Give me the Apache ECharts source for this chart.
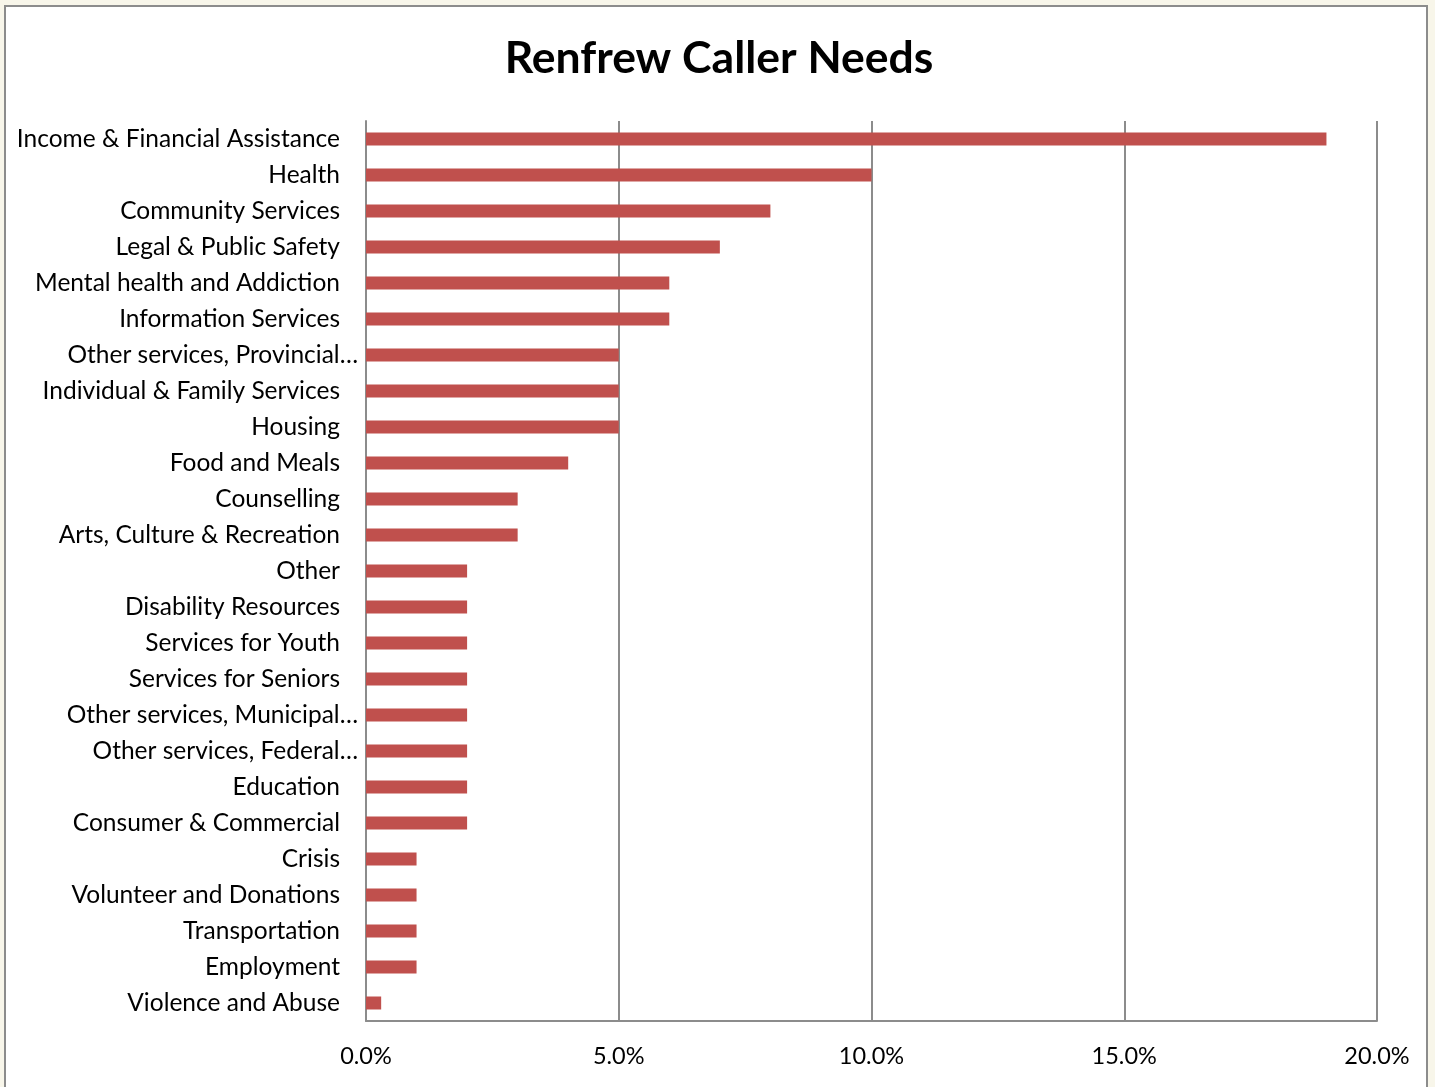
<!DOCTYPE html>
<html>
<head>
<meta charset="utf-8">
<script src="https://cdn.jsdelivr.net/npm/echarts@6/dist/echarts.min.js"></script>
<style>
  html, body { margin: 0; padding: 0; background: #f8f6ea; }
  #chart { width: 1435px; height: 1087px; }
</style>
</head>
<body>
<div id="chart"></div>
<script>
// Share of calls by need category (percent)
const categories = [
  'Income & Financial Assistance',
  'Health',
  'Community Services',
  'Legal & Public Safety',
  'Mental health and Addiction',
  'Information Services',
  'Other services, Provincial…',
  'Individual & Family Services',
  'Housing',
  'Food and Meals',
  'Counselling',
  'Arts, Culture & Recreation',
  'Other',
  'Disability Resources',
  'Services for Youth',
  'Services for Seniors',
  'Other services, Municipal…',
  'Other services, Federal…',
  'Education',
  'Consumer & Commercial',
  'Crisis',
  'Volunteer and Donations',
  'Transportation',
  'Employment',
  'Violence and Abuse'
];
const shares = [19, 10, 8, 7, 6, 6, 5, 5, 5, 4, 3, 3, 2, 2, 2, 2, 2, 2, 2, 2, 1, 1, 1, 1, 0.3];
const axisTicks = [0, 5, 10, 15, 20];

const FONT = 'Lato, "Open Sans", sans-serif';
const labelText = { fontFamily: FONT, fontSize: 24.5, color: '#000' };

const chart = echarts.init(document.getElementById('chart'));
chart.setOption({
  backgroundColor: 'transparent',
  animation: false,
  graphic: [{
    type: 'rect',
    z: -10,
    shape: { x: 5, y: 6, width: 1422, height: 1100 },
    style: { fill: '#ffffff', stroke: '#8c8c8c', lineWidth: 2 }
  }],
  title: {
    text: 'Renfrew Caller Needs',
    left: 714,
    textAlign: 'center',
    top: 31,
    textStyle: { fontFamily: FONT, fontWeight: 'bold', fontSize: 44.5, color: '#000' }
  },
  grid: { left: 366, right: 58, top: 121, bottom: 66, containLabel: false },
  xAxis: {
    type: 'value',
    min: axisTicks[0],
    max: axisTicks[axisTicks.length - 1],
    interval: axisTicks[1] - axisTicks[0],
    axisLine: { show: true, lineStyle: { color: '#8c8c8c', width: 2 } },
    axisTick: { show: false },
    splitLine: { show: true, lineStyle: { color: '#8c8c8c', width: 2 } },
    axisLabel: {
      margin: 23,
      fontFamily: FONT, fontSize: 23.5, color: '#000',
      formatter: v => v.toFixed(1) + '%'
    }
  },
  yAxis: {
    type: 'category',
    data: categories,
    inverse: true,
    axisLine: { show: true, lineStyle: { color: '#8c8c8c', width: 2 } },
    axisTick: { show: false },
    splitLine: { show: false },
    axisLabel: {
      margin: 8,
      ...labelText,
      // shortened names run closer to the axis; full names keep a wider gap
      formatter: name => name.endsWith('…') ? '{t|' + name + '}' : '{n|' + name + '}',
      rich: {
        n: { ...labelText, padding: [0, 18, 0, 0] },
        t: { ...labelText }
      }
    }
  },
  series: [{
    type: 'bar',
    data: shares,
    barWidth: 13,
    itemStyle: { color: '#c0504d' }
  }]
});
</script>
</body>
</html>
